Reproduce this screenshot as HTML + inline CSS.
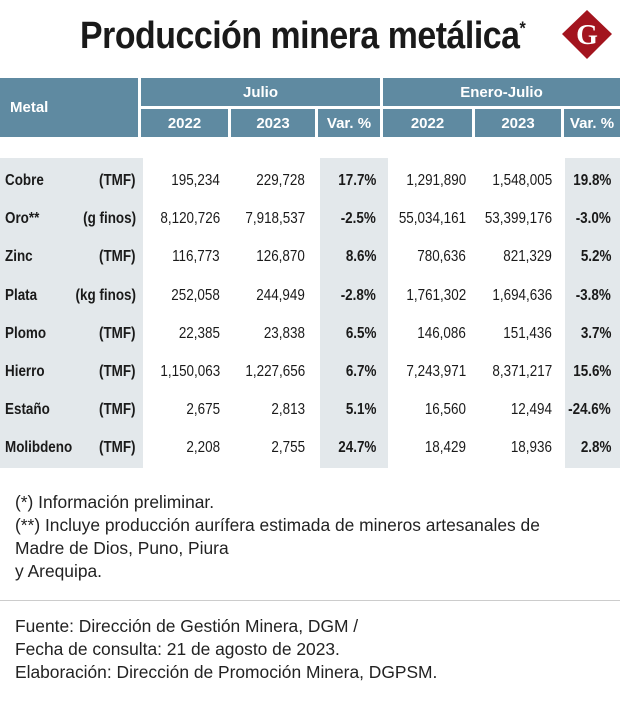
<!DOCTYPE html>
<html><head><meta charset="utf-8"><style>
body{margin:0;width:620px;height:710px;background:#fff;position:relative;overflow:hidden;font-family:"Liberation Sans",sans-serif;color:#1a1a1a}
.a{position:absolute}
.h{background:#5f8aa1;color:#fff;font-weight:bold;font-size:15px;display:flex;align-items:center;justify-content:center}
.s{background:#e3e8eb}
.t{font-size:16px;white-space:nowrap;transform:scaleX(0.84)}
.b{font-weight:bold}
.f{font-size:17.4px;left:15px;white-space:nowrap;color:#222}
</style></head><body>
<div class="a" style="left:80px;top:15px;font-size:38px;font-weight:bold;white-space:nowrap;letter-spacing:-0.5px;transform:scaleX(0.89);transform-origin:left">Producción minera metálica<sup style="font-size:18px">*</sup></div>
<svg class="a" style="left:560px;top:8px" width="54" height="52"><polygon points="27,2 52,26 27,51 2,26" fill="#a3141e"/><text x="27" y="36" text-anchor="middle" font-family="Liberation Serif" font-weight="bold" font-size="28" fill="#fff">G</text></svg>
<div class="a h" style="left:0;top:78px;width:138px;height:59px;justify-content:flex-start;padding-left:10px;box-sizing:border-box">Metal</div>
<div class="a h" style="left:141px;top:78px;width:239px;height:28px">Julio</div>
<div class="a h" style="left:383px;top:78px;width:237px;height:28px">Enero-Julio</div>
<div id="hdr"></div>
<div class="a s" style="left:0;top:158px;width:143px;height:310px"></div>
<div class="a s" style="left:320px;top:158px;width:68px;height:310px"></div>
<div class="a s" style="left:565px;top:158px;width:55px;height:310px"></div>
<div id="rows"></div>
<div class="a f" style="top:492px">(*) Información preliminar.</div>
<div class="a f" style="top:514px;line-height:23px">(**) Incluye producción aurífera estimada de mineros artesanales de<br>Madre de Dios, Puno, Piura<br>y Arequipa.</div>
<div class="a" style="left:0;top:600px;width:620px;height:1px;background:#ccc"></div>
<div class="a f" style="top:615px;line-height:23px">Fuente: Dirección de Gestión Minera, DGM /<br>Fecha de consulta: 21 de agosto de 2023.<br>Elaboración: Dirección de Promoción Minera, DGPSM.</div>
<script>
const metals=["Cobre","Oro**","Zinc","Plata","Plomo","Hierro","Estaño","Molibdeno"];
const units=["(TMF)","(g finos)","(TMF)","(kg finos)","(TMF)","(TMF)","(TMF)","(TMF)"];
const jul22=["195,234","8,120,726","116,773","252,058","22,385","1,150,063","2,675","2,208"];
const jul23=["229,728","7,918,537","126,870","244,949","23,838","1,227,656","2,813","2,755"];
const julVar=["17.7%","-2.5%","8.6%","-2.8%","6.5%","6.7%","5.1%","24.7%"];
const ene22=["1,291,890","55,034,161","780,636","1,761,302","146,086","7,243,971","16,560","18,429"];
const ene23=["1,548,005","53,399,176","821,329","1,694,636","151,436","8,371,217","12,494","18,936"];
const eneVar=["19.8%","-3.0%","5.2%","-3.8%","3.7%","15.6%","-24.6%","2.8%"];
const hdrs=[["2022",141,87],["2023",231,84],["Var. %",318,62],["2022",383,89],["2023",475,86],["Var. %",564,56]];
const H=document.getElementById('hdr');
hdrs.forEach(h=>{const d=document.createElement('div');d.className='a h';


d.style.cssText=`left:${h[1]}px;top:109px;width:${h[2]}px;height:28px`;d.textContent=h[0];H.appendChild(d);});
const R=document.getElementById('rows');
const cols=[[jul22,220,false],[jul23,305,false],[julVar,376,true],[ene22,466,false],[ene23,552,false],[eneVar,611,true]];
metals.forEach((m,i)=>{const y=172+i*38.2;
const add=(txt,x,right,bold,name)=>{const d=document.createElement('div');d.className='a t'+(bold?' b':'');


d.style.top=y+'px';if(right){d.style.right=(620-x)+'px';d.style.transformOrigin='right';}else{d.style.left=x+'px';d.style.transformOrigin='left';}d.textContent=txt;R.appendChild(d);};
add(m,5,false,true,'metal-name');
add(units[i],136,true,true,'metal-unit');
cols.forEach(c=>add(c[0][i],c[1],true,c[2],'table-cell'));});
</script>
</body></html>
